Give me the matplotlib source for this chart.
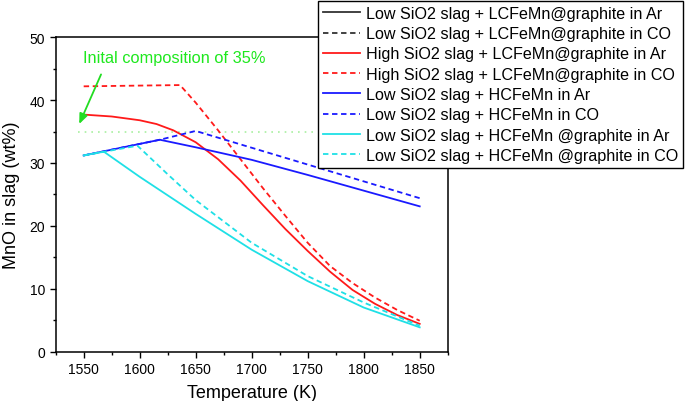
import matplotlib
matplotlib.use("Agg")
import matplotlib.pyplot as plt
from matplotlib.lines import Line2D
from matplotlib.ticker import MultipleLocator

plt.rcParams['font.family'] = ['Liberation Sans', 'DejaVu Sans']

# High SiO2 slag + LCFeMn@graphite
t_hs_ar = [1550, 1575, 1600, 1615, 1630, 1650, 1670, 1690, 1710, 1730, 1750, 1770, 1790, 1810, 1830, 1850]
y_hs_ar = [37.7, 37.4, 36.8, 36.2, 35.2, 33.3, 30.6, 27.2, 23.3, 19.5, 16.0, 12.7, 9.8, 7.6, 5.8, 4.4]
t_hs_co = [1550, 1636, 1650, 1670, 1690, 1710, 1730, 1750, 1770, 1790, 1810, 1830, 1850]
y_hs_co = [42.2, 42.4, 39.6, 35.2, 30.6, 26.0, 21.6, 17.3, 13.6, 10.9, 8.6, 6.6, 4.9]

# Low SiO2 slag + HCFeMn
t_hc_ar = [1550, 1618, 1650, 1700, 1750, 1800, 1850]
y_hc_ar = [31.2, 33.7, 32.5, 30.5, 28.1, 25.6, 23.1]
t_hc_co = [1550, 1618, 1650, 1850]
y_hc_co = [31.2, 33.7, 35.1, 24.4]

# Low SiO2 slag + HCFeMn @graphite
t_hg_ar = [1550, 1568, 1600, 1650, 1700, 1750, 1800, 1850]
y_hg_ar = [31.2, 31.8, 27.8, 21.9, 16.2, 11.2, 7.0, 3.85]
t_hg_co = [1550, 1598, 1625, 1650, 1700, 1750, 1800, 1850]
y_hg_co = [31.2, 32.75, 28.2, 24.1, 17.3, 12.0, 7.8, 4.1]

initial_mno = 35

labels = [
    "Low SiO2 slag + LCFeMn@graphite in Ar",
    "Low SiO2 slag + LCFeMn@graphite in CO",
    "High SiO2 slag + LCFeMn@graphite in Ar",
    "High SiO2 slag + LCFeMn@graphite in CO",
    "Low SiO2 slag + HCFeMn in Ar",
    "Low SiO2 slag + HCFeMn in CO",
    "Low SiO2 slag + HCFeMn @graphite in Ar",
    "Low SiO2 slag + HCFeMn @graphite in CO",
]

RED = "#ff1a1a"
BLUE = "#1a1aff"
CYAN = "#1fe0e6"
DASH = (0, (3, 2))
LW = 1.3

fig = plt.figure(figsize=(6.85, 4.02), dpi=100)
ax = fig.add_axes([0.0813, 0.1231, 0.5723, 0.7816])

# initial composition reference
ax.plot([1545, 1875], [initial_mno, initial_mno], color="#a8f0a0", lw=1.2,
        linestyle=(0, (1, 3)), zorder=1)

ax.plot(t_hs_ar, y_hs_ar, color=RED, lw=LW)
ax.plot(t_hs_co, y_hs_co, color=RED, lw=LW, linestyle=DASH)
ax.plot(t_hc_ar, y_hc_ar, color=BLUE, lw=LW)
ax.plot(t_hc_co, y_hc_co, color=BLUE, lw=LW, linestyle=DASH)
ax.plot(t_hg_ar, y_hg_ar, color=CYAN, lw=LW)
ax.plot(t_hg_co, y_hg_co, color=CYAN, lw=LW, linestyle=DASH)

ax.annotate("", xy=(1545, 35.8), xytext=(1566.5, 44.5),
            arrowprops=dict(arrowstyle="-|>,head_length=0.6,head_width=0.25",
                            color="#22dd22", lw=1.3))
ax.text(1549, 46.8, "Inital composition of 35%", color="#1ee81e",
        fontsize=11.8, va="center", ha="left")

ax.set_xlim(1525, 1875)
ax.set_ylim(0, 50)
ax.xaxis.set_major_locator(MultipleLocator(50))
ax.xaxis.set_minor_locator(MultipleLocator(25))
ax.yaxis.set_major_locator(MultipleLocator(10))
ax.yaxis.set_minor_locator(MultipleLocator(5))
ax.tick_params(which="both", direction="out", top=False, right=False,
               labelsize=10, width=1.0)
ax.tick_params(which="major", length=4)
ax.tick_params(which="minor", length=2.5)
for s in ax.spines.values():
    s.set_linewidth(1.1)

ax.set_xlabel("Temperature (K)", fontsize=13, labelpad=6)
ax.set_ylabel("MnO in slag (wt%)", fontsize=13, labelpad=7)

# legend handles (black series hidden under the others)
handles = [
    Line2D([], [], color="#333333", lw=LW),
    Line2D([], [], color="#333333", lw=LW, linestyle=DASH),
    Line2D([], [], color=RED, lw=LW),
    Line2D([], [], color=RED, lw=LW, linestyle=DASH),
    Line2D([], [], color=BLUE, lw=LW),
    Line2D([], [], color=BLUE, lw=LW, linestyle=DASH),
    Line2D([], [], color=CYAN, lw=LW),
    Line2D([], [], color=CYAN, lw=LW, linestyle=DASH),
]
leg = fig.legend(handles, labels, loc="upper right",
                 bbox_to_anchor=(683 / 685, 1 - 2 / 402), fontsize=11.6,
                 frameon=True, fancybox=False, framealpha=1, borderpad=0.3,
                 labelspacing=0.33, handlelength=2.3, handletextpad=0.35,
                 borderaxespad=0)
leg.get_frame().set_edgecolor("black")
leg.get_frame().set_linewidth(1.0)

fig.savefig("out.png", dpi=100)
